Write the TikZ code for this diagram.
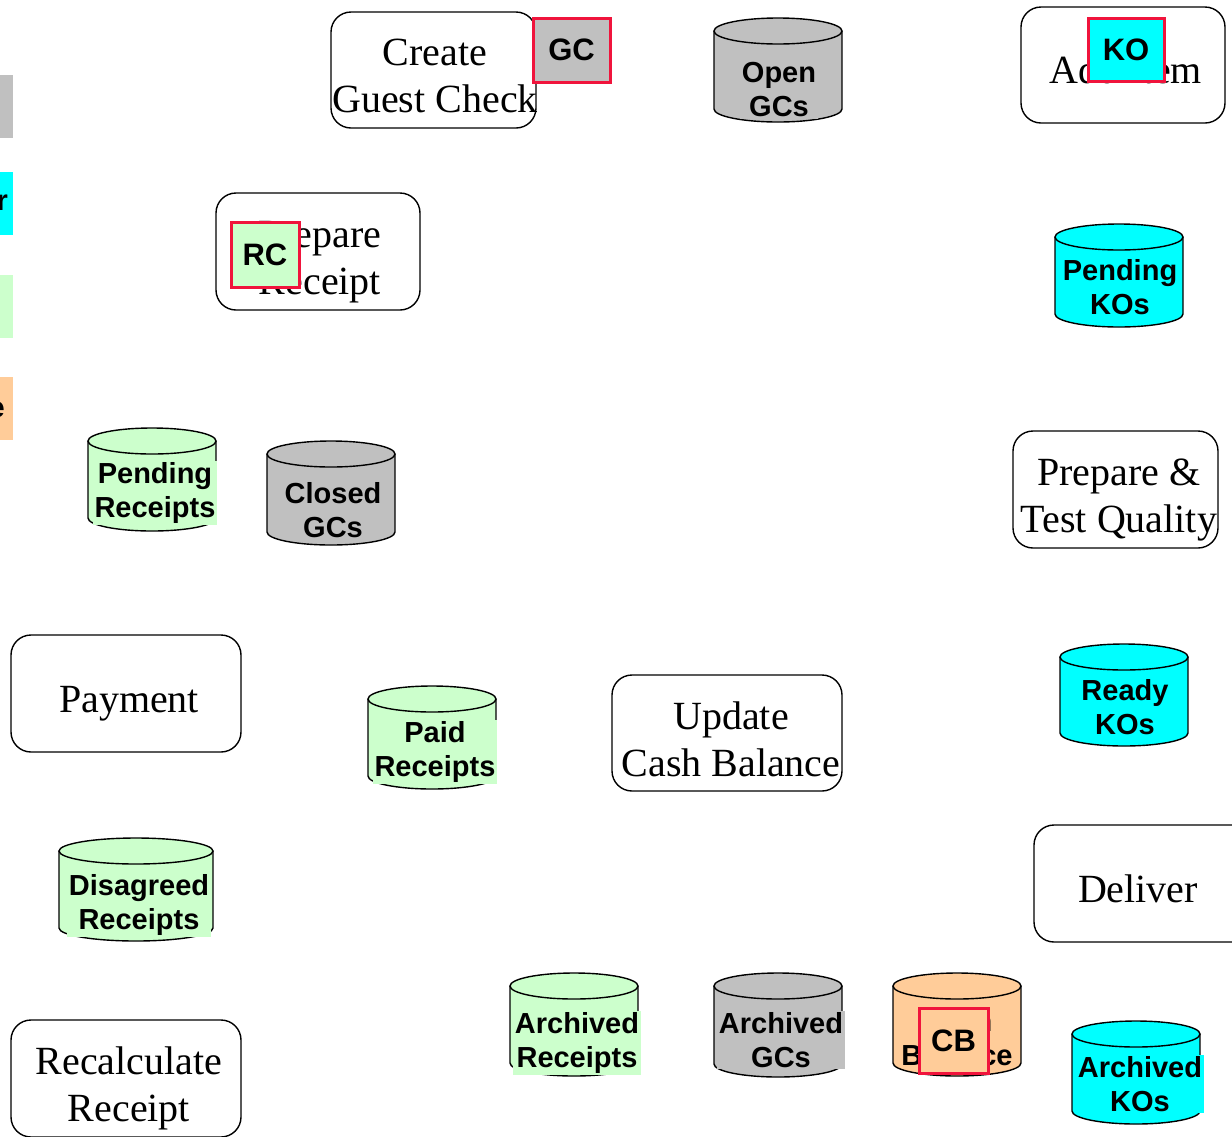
\documentclass[tikz,border=0pt]{standalone}
\usepackage{fontspec}
\setmainfont{Liberation Serif}
\newfontfamily\arialf{Liberation Sans}
\usetikzlibrary{calc}
\definecolor{gcgray}{RGB}{192,192,192}
\definecolor{kocyan}{RGB}{0,255,255}
\definecolor{rcgreen}{RGB}{204,255,204}
\definecolor{cborange}{RGB}{255,204,153}
\definecolor{tagred}{RGB}{240,20,60}
\tikzset{
 proc/.style={draw=black, line width=1.4pt, rounded corners=20pt, fill=white, inner sep=0pt},
 ptext/.style={font=\fontsize{40}{47}\selectfont, align=center, inner sep=0pt},
 ctext/.style={font=\arialf\bfseries\fontsize{29}{34}\selectfont, align=center, inner sep=1.5pt},
 tag/.style={draw=tagred, line width=3pt, font=\arialf\bfseries\fontsize{31}{36}\selectfont, inner sep=0pt},
 cylout/.style={draw=black, line width=1.4pt},
 legbox/.style={inner sep=0pt, minimum width=60pt, minimum height=63pt, anchor=north east},
 legtext/.style={font=\arialf\bfseries\fontsize{29}{34}\selectfont, inner sep=0pt, anchor=east},
}
\newcommand\dbcyl[6]{%
 \pgfmathsetmacro\cylrx{#5/2}%
 \pgfmathsetmacro\cylh{#4-#3}%
 \pgfmathsetmacro\cylcy{(#3+#4)/2}%
 \node[inner sep=0pt, minimum width=#5pt, minimum height=\cylh pt] (#1) at (#2,\cylcy) {};
 \fill[#6] (#2-\cylrx,#3+13) rectangle (#2+\cylrx,#4-13);
 \fill[#6] (#2,#4-13) ellipse[x radius=\cylrx, y radius=13];
 \draw[cylout, fill=#6] (#2,#3+13) ellipse[x radius=\cylrx, y radius=13];
 \draw[cylout] (#2-\cylrx,#3+13) -- (#2-\cylrx,#4-13) arc[start angle=180,end angle=0,x radius=\cylrx,y radius=13] -- (#2+\cylrx,#3+13);
}
\begin{document}
\begin{tikzpicture}[x=1pt,y=-1pt]
\useasboundingbox (0,0) rectangle (1232,1136);
\clip (0,0) rectangle (1232,1136);

% legend remnants at the left edge
\node[legbox, fill=gcgray] (lg1) at (13,75) {};
\node[legbox, fill=kocyan] (lg2) at (13,172) {};
\node[legbox, fill=rcgreen] (lg3) at (13,275) {};
\node[legbox, fill=cborange] (lg4) at (13,377) {};
\node[legtext] (lg2t) at (8,203) {r};
\node[legtext] (lg4t) at (5,410) {e};

% process boxes
\node[proc, minimum width=205pt, minimum height=116pt] (cgc) at (433.5,70) {};
\node[ptext] (cgct) at (435,76) {Create\\Guest Check};
\node[proc, minimum width=204pt, minimum height=117pt] (prc) at (318,251.5) {};
\node[ptext] (prct) at (320,262) {Prepare\\Receipt};
\node[proc, minimum width=204pt, minimum height=116pt] (add) at (1123,65) {};
\node[ptext] (addt) at (1126,70) {Add Item};
\node[proc, minimum width=205pt, minimum height=117pt] (ptq) at (1115.5,489.5) {};
\node[ptext] (ptqt) at (1119,500) {Prepare \&\\Test Quality};
\node[proc, minimum width=230pt, minimum height=117pt] (pay) at (126,693.5) {};
\node[ptext] (payt) at (129,704) {Payment};
\node[proc, minimum width=230pt, minimum height=116pt] (ucb) at (727,733) {};
\node[ptext] (ucbt) at (731,739) {Update\\Cash Balance};
\node[proc, minimum width=230pt, minimum height=117pt] (del) at (1149,883.5) {};
\node[ptext] (delt) at (1138,889) {Deliver};
\node[proc, minimum width=230pt, minimum height=117pt] (rr) at (126,1078.5) {};
\node[ptext] (rrt) at (129,1088) {Recalculate\\Receipt};

% data stores
\dbcyl{opengc}{778}{18}{122}{128}{gcgray}
\node[ctext, fill=gcgray] (opengct) at (779,90) {Open\\GCs};
\dbcyl{pendko}{1119}{224}{327}{128}{kocyan}
\node[ctext, fill=kocyan] (pendkot) at (1120,287) {Pending\\KOs};
\dbcyl{pendrc}{152}{428}{531}{128}{rcgreen}
\node[ctext, fill=rcgreen] (pendrct) at (155,493) {Pending\\Receipts};
\dbcyl{closed}{331}{441}{545}{128}{gcgray}
\node[ctext, fill=gcgray] (closedt) at (333,510) {Closed\\GCs};
\dbcyl{ready}{1124}{644}{746}{128}{kocyan}
\node[ctext, fill=kocyan] (readyt) at (1125,707) {Ready\\KOs};
\dbcyl{paid}{432}{686}{789}{128}{rcgreen}
\node[ctext, fill=rcgreen] (paidt) at (435,752) {Paid\\Receipts};
\dbcyl{disag}{136}{838}{941}{154}{rcgreen}
\node[ctext, fill=rcgreen] (disagt) at (139,905) {Disagreed\\Receipts};
\dbcyl{archrc}{574}{973}{1076}{128}{rcgreen}
\node[ctext, fill=rcgreen] (archrct) at (577,1043) {Archived\\Receipts};
\dbcyl{archgc}{778}{973}{1077}{128}{gcgray}
\node[ctext, fill=gcgray] (archgct) at (781,1040) {Archived\\GCs};
\dbcyl{cash}{957}{973}{1076}{128}{cborange}
\node[ctext, fill=cborange] (casht) at (957,1038) {Cash\\Balance};
\dbcyl{archko}{1136}{1021}{1124}{128}{kocyan}
\node[ctext, fill=kocyan] (archkot) at (1140,1084) {Archived\\KOs};

% tags
\node[tag, fill=gcgray, minimum width=77pt, minimum height=64pt] (gctag) at (571.5,50) {GC};
\node[tag, fill=rcgreen, minimum width=68pt, minimum height=65pt] (rctag) at (265,254.5) {RC};
\node[tag, fill=kocyan, minimum width=76pt, minimum height=63pt] (kotag) at (1126,49.5) {KO};
\node[tag, fill=cborange, minimum width=69pt, minimum height=65pt] (cbtag) at (953.5,1040.5) {CB};
\end{tikzpicture}
\end{document}
